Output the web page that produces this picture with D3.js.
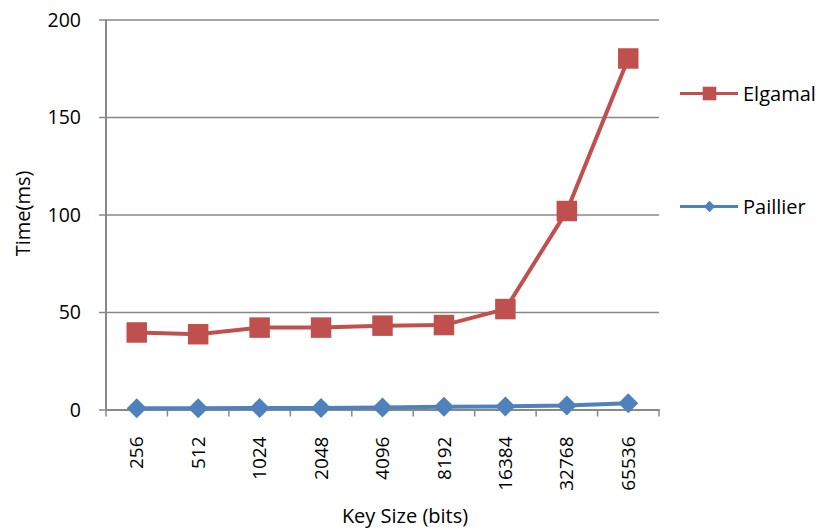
<!DOCTYPE html>
<html>
<head>
<meta charset="utf-8">
<script src="https://cdn.jsdelivr.net/npm/d3@7"></script>
<style>
  body { margin: 0; background: #fff; }
  text { font-family: 'Open Sans', sans-serif; fill: #000; }
</style>
</head>
<body>
<div id="graf"></div>
<script>
const keySizes = ['256', '512', '1024', '2048', '4096', '8192', '16384', '32768', '65536']
const elgamal = [39.5, 38.6, 42, 42, 43, 43.3, 51.5, 101.8, 180]
const paillier = [0.6, 0.6, 0.8, 0.8, 1, 1.4, 1.6, 2, 3.2]
const yTicks = [0, 50, 100, 150, 200]

const anchoTotal = 816
const altoTotal = 531
const margin = { top: 19.5, left: 106, right: 157, bottom: 121.5 }
const ancho = anchoTotal - margin.left - margin.right
const alto = altoTotal - margin.top - margin.bottom

const svg = d3.select('#graf')
  .append('svg')
  .attr('width', anchoTotal)
  .attr('height', altoTotal)

const g = svg.append('g')
  .attr('transform', `translate(${margin.left}, ${margin.top})`)

const x = d3.scaleBand().domain(keySizes).range([0, ancho])
const y = d3.scaleLinear().domain([0, 200]).range([alto, 0])
const cx = d => x(d) + x.bandwidth() / 2

// grid + y axis
const yAxis = g.append('g')
  .call(d3.axisLeft(y).tickValues(yTicks).tickSize(-ancho - 7))
  .attr('transform', 'translate(-7,0)')
yAxis.select('.domain').remove()
yAxis.selectAll('line').attr('stroke', '#888').attr('stroke-width', 1.5)
yAxis.selectAll('text').attr('font-size', 19.5).attr('dy', '0.35em').attr('x', -18)

g.append('line')
  .attr('x1', 0).attr('x2', 0).attr('y1', 0).attr('y2', alto)
  .attr('stroke', '#888').attr('stroke-width', 2)

// x axis
const xAxis = g.append('g')
  .attr('transform', `translate(0, ${alto})`)
  .call(d3.axisBottom(x).tickSize(0).tickPadding(0))
xAxis.select('.domain').attr('stroke', '#888').attr('stroke-width', 2)
xAxis.selectAll('.tick text')
  .attr('font-size', 19)
  .attr('text-anchor', 'end')
  .attr('dy', '0.35em')
  .attr('transform', 'rotate(-90)')
  .attr('x', -27)
  .attr('y', 0)

g.append('g').selectAll('line')
  .data(d3.range(keySizes.length + 1))
  .join('line')
  .attr('x1', i => i * x.step()).attr('x2', i => i * x.step())
  .attr('y1', alto).attr('y2', alto + 7)
  .attr('stroke', '#888').attr('stroke-width', 1.5)

const linea = d3.line().x((d, i) => cx(keySizes[i])).y(d => y(d))

const series = [
  { name: 'Elgamal', values: elgamal, color: '#C0504D', rot: 0, size: 420, legSize: 185, legY: 93.5 },
  { name: 'Paillier', values: paillier, color: '#4F81BD', rot: 45, size: 200, legSize: 64, legY: 206.5 }
]

series.slice().reverse().forEach(s => {
  g.append('path')
    .datum(s.values)
    .attr('d', linea)
    .attr('fill', 'none')
    .attr('stroke', s.color)
    .attr('stroke-width', 4)

  g.append('g').selectAll('path')
    .data(s.values)
    .join('path')
    .attr('d', d3.symbol().type(d3.symbolSquare).size(s.size))
    .attr('transform', (d, i) => `translate(${cx(keySizes[i])}, ${y(d)}) rotate(${s.rot})`)
    .attr('fill', s.color)
})

// legend
series.forEach(s => {
  const lg = svg.append('g').attr('transform', `translate(680, ${s.legY})`)
  lg.append('line').attr('x1', 0).attr('x2', 58).attr('stroke', s.color).attr('stroke-width', 3)
  lg.append('path')
    .attr('d', d3.symbol().type(d3.symbolSquare).size(s.legSize))
    .attr('transform', `translate(29.5,0) rotate(${s.rot})`)
    .attr('fill', s.color)
  lg.append('text').attr('x', 63).attr('dy', '0.35em').attr('font-size', 20).text(s.name)
})

// titles
svg.append('text')
  .attr('x', 405)
  .attr('y', 523)
  .attr('text-anchor', 'middle')
  .attr('font-size', 20)
  .text('Key Size (bits)')

svg.append('text')
  .attr('transform', `translate(23, 213.5) rotate(-90)`)
  .attr('text-anchor', 'middle')
  .attr('dy', '0.35em')
  .attr('font-size', 20)
  .text('Time(ms)')
</script>
</body>
</html>
